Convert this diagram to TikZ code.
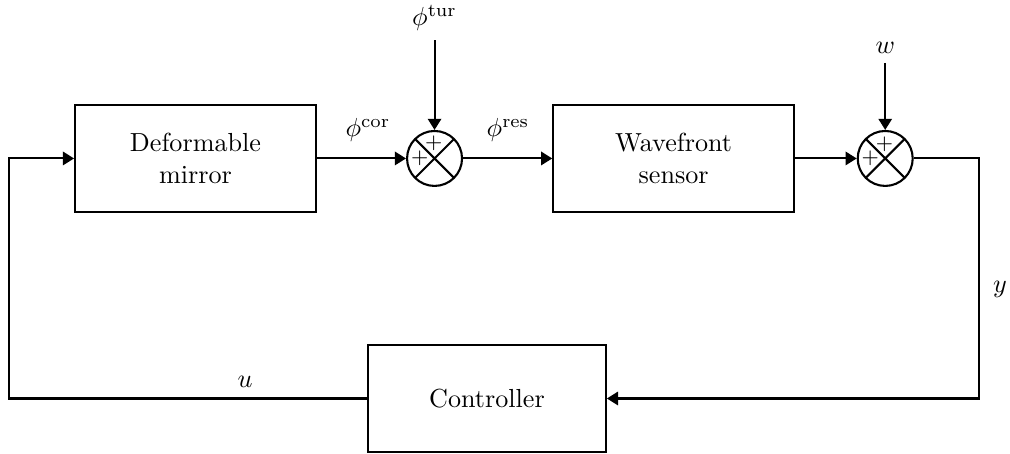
\documentclass[tikz,border=0pt]{standalone}
\usepackage{amsmath}
\usetikzlibrary{arrows.meta,positioning,calc}
\tikzset{
  block/.style={rectangle, draw=black, line width=0.8pt,
    minimum width=3.24cm, minimum height=1.44cm, align=center},
  sumnode/.style={circle, draw=black, line width=0.8pt,
    minimum size=0.74cm, inner sep=0pt,
    path picture={
      \draw[line width=0.8pt]
        (path picture bounding box.north west) -- (path picture bounding box.south east)
        (path picture bounding box.north east) -- (path picture bounding box.south west);
    }},
  sig/.style={-{Triangle[length=1.5mm,width=1.8mm]}, line width=0.8pt},
  plus/.style={font=\footnotesize, inner sep=0pt}
}

\begin{document}
\begin{tikzpicture}
  \useasboundingbox (0,0) rectangle (13.595,-6.111);

  % Forward path
  \node[block] (dm) at (2.631,-2.133) {Deformable\\mirror};
  \node[sumnode, right=1.2cm of dm] (s1) {};
  \node[block, right=1.2cm of s1] (wfs) {Wavefront\\sensor};
  \node[sumnode, right=0.83cm of wfs] (s2) {};
  \node[block, minimum width=3.2cm] (ctrl) at (6.555,-5.364) {Controller};

  % Signs in the junctions
  \node[plus] (s1t) at ($(s1)+(-0.01,0.2)$) {$+$};
  \node[plus] (s1l) at ($(s1)+(-0.2,0)$) {$+$};
  \node[plus] (s2t) at ($(s2)+(-0.01,0.19)$) {$+$};
  \node[plus] (s2l) at ($(s2)+(-0.2,0)$) {$+$};

  % Disturbances
  \node (tur) at (s1 |- 0,-0.242) {$\phi^{\text{tur}}$};
  \node (w) at (s2 |- 0,-0.646) {$w$};
  \draw[sig] (tur.south) -- (s1.north);
  \draw[sig] (w.south) -- (s2.north);

  % Signals
  \draw[sig] (dm.east) -- (s1.west);
  \draw[sig] (s1.east) -- (wfs.west);
  \draw[sig] (wfs.east) -- (s2.west);
  \draw[sig] (s2.east) -- ++(0.88,0) coordinate (yc) |- (ctrl.east);
  \draw[sig] (ctrl.west) -- ++(-4.82,0) coordinate (uc) |- (dm.west);

  % Signal labels
  \node (cor) at (4.953,-1.75) {$\phi^{\text{cor}}$};
  \node (res) at (6.838,-1.75) {$\phi^{\text{res}}$};
  \node (ylbl) at (13.46,-3.90) {$y$};
  \node (ulbl) at (3.298,-5.142) {$u$};

\end{tikzpicture}
\end{document}
